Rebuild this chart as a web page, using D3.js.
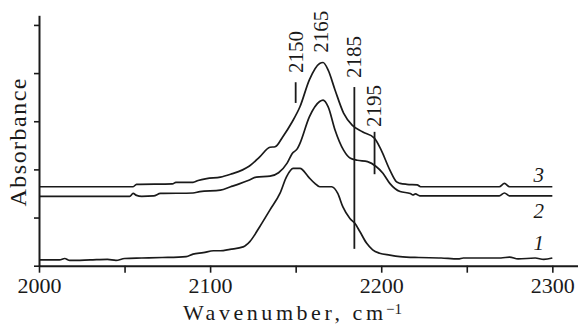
<!DOCTYPE html>
<meta charset="utf-8">
<style>
  body { margin: 0; background: #fff; }
</style>
<script src="https://d3js.org/d3.v7.min.js"></script>
<div id="chart"></div>
<script>
  // spectra: [wavenumber, absorbance]
  var curve1 = [[2000,0.012],[2012,0.012],[2015,0.015],[2018,0.011],[2030,0.012],[2040,0.013],[2045,0.011],
    [2050,0.015],[2060,0.016],[2072,0.017],[2086,0.019],[2090,0.024],[2096,0.027],[2102,0.031],[2106,0.031],
    [2111.6,0.034],[2119.3,0.039],[2123.2,0.050],[2129,0.081],[2135,0.116],[2140.8,0.150],[2144.7,0.185],
    [2148.5,0.202],[2152.5,0.202],[2157.3,0.185],[2158.3,0.181],[2161.2,0.171],[2164.1,0.164],[2171,0.164],
    [2174.6,0.150],[2177.6,0.122],[2181.7,0.098],[2184.6,0.088],[2187.5,0.071],[2191.4,0.047],[2195,0.033],
    [2199,0.026],[2205,0.022],[2211,0.019],[2222,0.017],[2235,0.016],[2245,0.014],[2248,0.016],[2260,0.016],
    [2270,0.016],[2275,0.018],[2280,0.014],[2290,0.016],[2295,0.013],[2300,0.016]];

  var curve2 = [[2000,0.144],[2053,0.144],[2055,0.150],[2057,0.146],[2060,0.144],[2067,0.145],[2071,0.150],
    [2090,0.151],[2094,0.154],[2106,0.157],[2112,0.164],[2117,0.170],[2123,0.178],[2127,0.184],[2135,0.186],
    [2140,0.193],[2145,0.213],[2148,0.233],[2151,0.243],[2152.5,0.254],[2158,0.309],[2164,0.341],[2166,0.344],
    [2169,0.330],[2173,0.282],[2178,0.240],[2182,0.223],[2186,0.219],[2192,0.216],[2197,0.206],[2201,0.192],
    [2205,0.171],[2211,0.154],[2217,0.150],[2218.5,0.147],[2220,0.149],[2222.5,0.145],[2269,0.145],
    [2272,0.151],[2275,0.145],[2300,0.145]];

  var curve3 = [[2000,0.164],[2055,0.164],[2057,0.169],[2078,0.170],[2080,0.173],[2090,0.173],[2093,0.177],
    [2098,0.181],[2106,0.184],[2112,0.190],[2119,0.199],[2123,0.207],[2129,0.226],[2135,0.246],[2138,0.247],
    [2142.5,0.268],[2148,0.299],[2152.5,0.330],[2158,0.386],[2164,0.420],[2166,0.422],[2169,0.406],
    [2173,0.365],[2178,0.317],[2183,0.292],[2189,0.278],[2196,0.265],[2200,0.240],[2205,0.199],[2209,0.174],
    [2211,0.171],[2215,0.169],[2221,0.168],[2223,0.164],[2269,0.164],[2272,0.171],[2275,0.164],[2300,0.164]];

  var curves = [curve1, curve2, curve3];
  var curveNames = ["1", "2", "3"];
  var curveNameAt = [[2292, 0.032], [2292, 0.099], [2292, 0.174]];

  // band markers
  var markerLabels = ["2150", "2165", "2185", "2195"];
  var markerPos = [2150, 2165.1, 2184.3, 2196.1];
  var markerTop = [0.381, null, 0.371, 0.278];
  var markerBottom = [0.338, null, 0.035, 0.190];
  var markerLabelBase = [0.400, 0.442, 0.390, 0.288];

  var xTicks = d3.range(2000, 2301, 50);
  var yTicks = [0, 0.1, 0.2, 0.3, 0.4, 0.5];

  var width = 578, height = 325;
  var serif = '"Liberation Serif", "DejaVu Serif", "Noto Serif", Tinos, FreeSerif, "Nimbus Roman", Times, serif';
  var ink = "#1a1a1a";

  var svg = d3.select("#chart").append("svg")
    .attr("width", width)
    .attr("height", height);

  var x = d3.scaleLinear().domain([2000, 2315]).range([39, 578]);
  var y = d3.scaleLinear().domain([0, 0.52]).range([265.7, 15.3]);

  // x axis
  var xAxis = svg.append("g")
    .attr("transform", "translate(0," + y(0) + ")")
    .call(d3.axisBottom(x)
      .tickValues(xTicks)
      .tickSize(7)
      .tickSizeOuter(0)
      .tickPadding(5)
      .tickFormat(function (d) { return d % 100 === 0 ? d : ""; }));
  xAxis.select(".domain").attr("stroke", ink).attr("stroke-width", 2);
  xAxis.selectAll(".tick line").attr("stroke", ink).attr("stroke-width", 1.6);
  xAxis.selectAll(".tick text")
    .style("font-family", serif)
    .style("font-size", "22px")
    .attr("fill", ink);

  // y axis, no labels
  var yAxis = svg.append("g")
    .attr("transform", "translate(" + x(2000) + ",0)")
    .call(d3.axisLeft(y).tickValues(yTicks).tickSize(5).tickSizeOuter(0).tickFormat(""));
  yAxis.select(".domain").attr("stroke", ink).attr("stroke-width", 2);
  yAxis.selectAll(".tick line").attr("stroke", ink).attr("stroke-width", 1.6);

  svg.append("text")
    .attr("transform", "translate(26,142.5) rotate(-90)")
    .attr("text-anchor", "middle")
    .attr("textLength", 128)
    .attr("lengthAdjust", "spacing")
    .attr("fill", ink)
    .style("font-family", serif)
    .style("font-size", "24px")
    .text("Absorbance");

  svg.append("text")
    .attr("x", 183)
    .attr("y", 320)
    .attr("textLength", 200)
    .attr("lengthAdjust", "spacing")
    .attr("fill", ink)
    .style("font-family", serif)
    .style("font-size", "22px")
    .text("Wavenumber, cm");
  svg.append("text")
    .attr("x", 386)
    .attr("y", 314)
    .attr("fill", ink)
    .style("font-family", serif)
    .style("font-size", "15px")
    .text("\u22121");

  // spectra
  var line = d3.line()
    .x(function (d) { return x(d[0]); })
    .y(function (d) { return y(d[1]); })
    .curve(d3.curveMonotoneX);

  svg.selectAll(".spec")
    .data(curves)
    .enter()
    .append("path")
    .attr("class", "spec")
    .attr("d", line)
    .attr("fill", "none")
    .attr("stroke", ink)
    .attr("stroke-width", 1.7)
    .attr("stroke-linejoin", "round");

  svg.selectAll(".cname")
    .data(curveNames)
    .enter()
    .append("text")
    .attr("class", "cname")
    .attr("x", function (d, i) { return x(curveNameAt[i][0]); })
    .attr("y", function (d, i) { return y(curveNameAt[i][1]); })
    .attr("text-anchor", "middle")
    .attr("fill", ink)
    .style("font-family", serif)
    .style("font-size", "21px")
    .style("font-style", "italic")
    .text(function (d) { return d; });

  // marker lines and rotated labels
  markerLabels.forEach(function (lab, i) {
    if (markerTop[i] !== null) {
      svg.append("line")
        .attr("x1", x(markerPos[i])).attr("x2", x(markerPos[i]))
        .attr("y1", y(markerTop[i])).attr("y2", y(markerBottom[i]))
        .attr("stroke", ink)
        .attr("stroke-width", 1.8);
    }
    svg.append("text")
      .attr("transform", "translate(" + x(markerPos[i]) + "," + y(markerLabelBase[i]) + ") rotate(-90)")
      .attr("dy", "0.33em")
      .attr("fill", ink)
      .style("font-family", serif)
      .style("font-size", "21px")
      .text(lab);
  });
</script>
